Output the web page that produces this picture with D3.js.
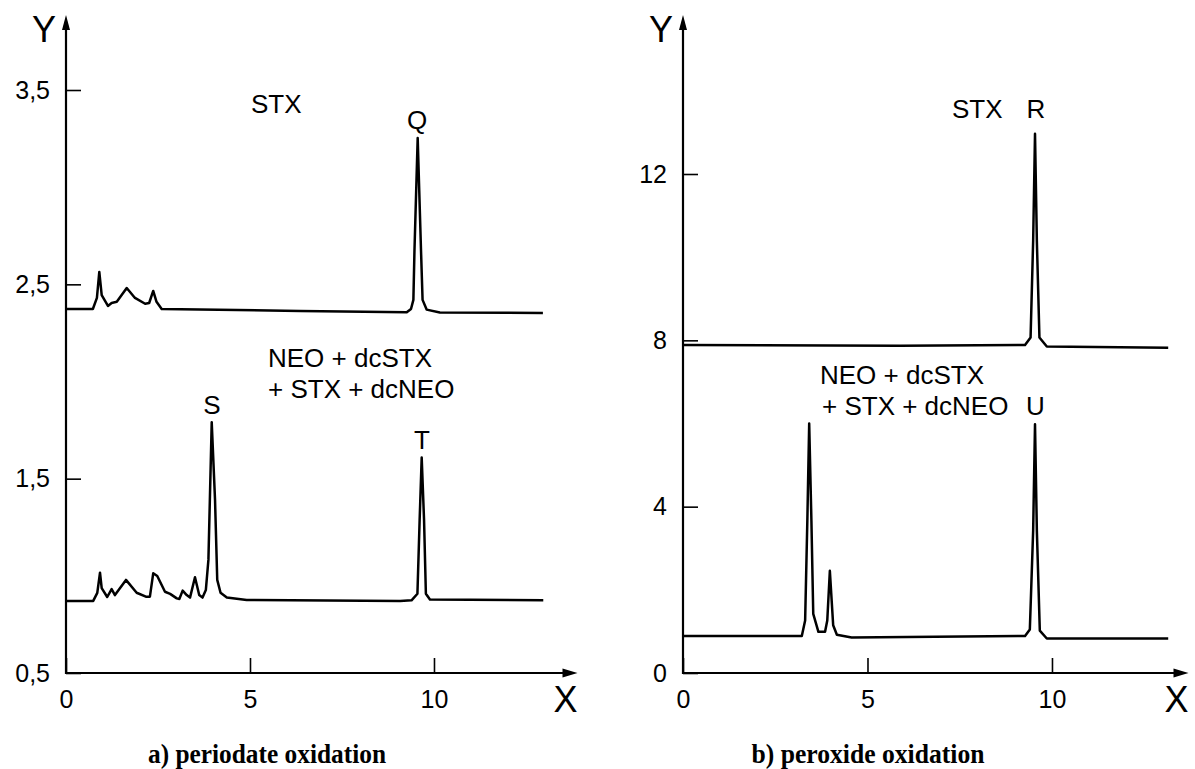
<!DOCTYPE html>
<html><head><meta charset="utf-8">
<script src="https://cdn.jsdelivr.net/npm/d3@7"></script>
<style>body{margin:0;background:#fff}svg{display:block}</style>
</head><body><svg id="c" width="1195" height="769"></svg>
<script>
// ---- data ----
const xTicks = [0, 5, 10];
const xTickLabels = ["0", "5", "10"];
const yTicksA = [0.5, 1.5, 2.5, 3.5];
const yTickLabelsA = ["0,5", "1,5", "2,5", "3,5"];
const yTicksB = [0, 4, 8, 12];
const yTickLabelsB = ["0", "4", "8", "12"];

// a) periodate oxidation, STX
const stxPeriodateTime   = [0, 0.73, 0.84, 0.905, 0.97, 1.14, 1.24, 1.38, 1.65, 1.875, 2.15, 2.26, 2.37, 2.46, 2.60, 6.36, 9.26, 9.375, 9.44, 9.47, 9.557, 9.647, 9.69, 9.80, 10.16, 12.96];
const stxPeriodateSignal = [2.373, 2.373, 2.43, 2.564, 2.445, 2.389, 2.404, 2.41, 2.481, 2.43, 2.40, 2.404, 2.466, 2.41, 2.373, 2.363, 2.356, 2.373, 2.42, 2.677, 3.253, 2.677, 2.42, 2.37, 2.355, 2.353];
// a) periodate oxidation, NEO + dcSTX + STX + dcNEO
const mixPeriodateTime   = [0, 0.74, 0.85, 0.924, 0.97, 1.12, 1.24, 1.33, 1.63, 1.92, 2.17, 2.28, 2.37, 2.48, 2.69, 2.83, 3.01, 3.08, 3.17, 3.28, 3.37, 3.505, 3.62, 3.71, 3.80, 3.87, 3.96, 4.05, 4.11, 4.20, 4.37, 4.91, 9.08, 9.39, 9.55, 9.61, 9.666, 9.73, 9.78, 9.89, 12.97];
const mixPeriodateSignal = [0.871, 0.871, 0.912, 1.016, 0.937, 0.891, 0.932, 0.901, 0.979, 0.913, 0.893, 0.893, 1.013, 0.999, 0.918, 0.907, 0.884, 0.881, 0.924, 0.901, 0.888, 0.993, 0.901, 0.888, 0.927, 1.082, 1.790, 1.390, 0.979, 0.913, 0.888, 0.876, 0.871, 0.874, 0.908, 1.287, 1.609, 1.287, 0.908, 0.878, 0.874];
// b) peroxide oxidation, STX
const stxPeroxideTime   = [0, 5.88, 9.27, 9.42, 9.49, 9.54, 9.59, 9.66, 9.86, 13.15];
const stxPeroxideSignal = [7.89, 7.87, 7.89, 8.07, 10.40, 12.97, 10.40, 8.07, 7.85, 7.82];
// b) peroxide oxidation, NEO + dcSTX + STX + dcNEO
const mixPeroxideTime   = [0, 3.22, 3.31, 3.37, 3.42, 3.48, 3.53, 3.67, 3.85, 3.91, 3.98, 4.07, 4.17, 4.57, 9.27, 9.40, 9.49, 9.54, 9.59, 9.67, 9.86, 13.15];
const mixPeroxideSignal = [0.889, 0.889, 1.26, 3.675, 6.0, 3.675, 1.42, 0.99, 0.99, 1.26, 2.46, 1.15, 0.92, 0.853, 0.889, 1.045, 3.43, 5.98, 3.43, 1.02, 0.83, 0.83];

const panelTitles = ["a) periodate oxidation", "b) peroxide oxidation"];

// ---- drawing ----
const svg = d3.select("#c");
const sans = "'Liberation Sans', Arial, sans-serif";

function zip(t, v) { return t.map((d, i) => [d, v[i]]); }

const panels = [
  {
    xRange: [66, 577.5], xMax: 13.9, yDomain: [0.5, 3.5], yRange: [673, 90], yTop: 15,
    yTicks: yTicksA, yLabels: yTickLabelsA,
    traces: [zip(stxPeriodateTime, stxPeriodateSignal), zip(mixPeriodateTime, mixPeriodateSignal)],
    title: panelTitles[0], titleX: 267, titleW: 238,
    notes: [
      {t: "STX", x: 251, y: 113, a: "start"},
      {t: "Q", x: 417, y: 129, a: "middle"},
      {t: "NEO + dcSTX", x: 268, y: 367, a: "start"},
      {t: "+ STX + dcNEO", x: 268, y: 398, a: "start"},
      {t: "S", x: 212, y: 414, a: "middle"},
      {t: "T", x: 422, y: 449, a: "middle"}
    ]
  },
  {
    xRange: [683, 1188.5], xMax: 13.7, yDomain: [0, 12], yRange: [673, 174], yTop: 15,
    yTicks: yTicksB, yLabels: yTickLabelsB,
    traces: [zip(stxPeroxideTime, stxPeroxideSignal), zip(mixPeroxideTime, mixPeroxideSignal)],
    title: panelTitles[1], titleX: 868, titleW: 233,
    notes: [
      {t: "STX", x: 952, y: 118, a: "start"},
      {t: "R", x: 1036, y: 118, a: "middle"},
      {t: "NEO + dcSTX", x: 820, y: 384, a: "start"},
      {t: "+ STX + dcNEO", x: 822, y: 415, a: "start"},
      {t: "U", x: 1035.5, y: 415, a: "middle"}
    ]
  }
];

panels.forEach(p => {
  const x = d3.scaleLinear().domain([0, p.xMax]).range(p.xRange);
  const y = d3.scaleLinear().domain(p.yDomain).range(p.yRange);
  const x0 = x(0), y0 = y(p.yDomain[0]);
  const g = svg.append("g");

  // x axis ticks + labels
  const xa = d3.axisBottom(x).tickValues(xTicks).tickFormat((d, i) => xTickLabels[i])
    .tickSizeInner(-15).tickSizeOuter(0).tickPadding(17);
  const gx = g.append("g").attr("transform", `translate(0,${y0})`).call(xa);
  gx.select(".domain").remove();
  gx.selectAll("line").attr("stroke", "#000").attr("stroke-width", 1.6);
  gx.selectAll("text").attr("font-family", sans).attr("font-size", 25).attr("fill", "#000");

  // y axis ticks + labels
  const ya = d3.axisLeft(y).tickValues(p.yTicks).tickFormat((d, i) => p.yLabels[i])
    .tickSizeInner(-15).tickSizeOuter(0).tickPadding(16);
  const gy = g.append("g").attr("transform", `translate(${x0},0)`).call(ya);
  gy.select(".domain").remove();
  gy.selectAll("line").attr("stroke", "#000").attr("stroke-width", 1.6);
  gy.selectAll("text").attr("font-family", sans).attr("font-size", 25).attr("fill", "#000");

  // axis lines with arrows
  const xEnd = x(p.xMax);
  g.append("line").attr("x1", x0).attr("y1", y0).attr("x2", xEnd - 8).attr("y2", y0)
    .attr("stroke", "#000").attr("stroke-width", 2.2);
  g.append("path").attr("d", `M${xEnd},${y0} L${xEnd - 15},${y0 - 4.5} L${xEnd - 15},${y0 + 4.5} Z`).attr("fill", "#000");
  g.append("line").attr("x1", x0).attr("y1", y0 + 1.1).attr("x2", x0).attr("y2", p.yTop + 8)
    .attr("stroke", "#000").attr("stroke-width", 2.2);
  g.append("path").attr("d", `M${x0},${p.yTop} L${x0 - 4},${p.yTop + 15} L${x0 + 4},${p.yTop + 15} Z`).attr("fill", "#000");

  g.append("text").text("Y").attr("x", x0 - 10).attr("y", 42).attr("text-anchor", "end")
    .attr("font-family", sans).attr("font-size", 36);
  g.append("text").text("X").attr("x", xEnd - 12).attr("y", 712).attr("text-anchor", "middle")
    .attr("font-family", sans).attr("font-size", 36);

  // traces
  const line = d3.line().x(d => x(d[0])).y(d => y(d[1]));
  p.traces.forEach(tr => {
    g.append("path").datum(tr).attr("d", line).attr("fill", "none")
      .attr("stroke", "#000").attr("stroke-width", 2.5).attr("stroke-linejoin", "round");
  });

  // annotations
  p.notes.forEach(n => {
    g.append("text").text(n.t).attr("x", n.x).attr("y", n.y).attr("text-anchor", n.a)
      .attr("font-family", sans).attr("font-size", 26).attr("fill", "#000");
  });

  // title
  g.append("text").text(p.title).attr("x", p.titleX).attr("y", 763).attr("text-anchor", "middle")
    .attr("font-family", "'Liberation Serif', 'Times New Roman', serif").attr("font-weight", "bold")
    .attr("font-size", 28).attr("fill", "#000")
    .attr("textLength", p.titleW).attr("lengthAdjust", "spacingAndGlyphs");
});
</script>
</body></html>
